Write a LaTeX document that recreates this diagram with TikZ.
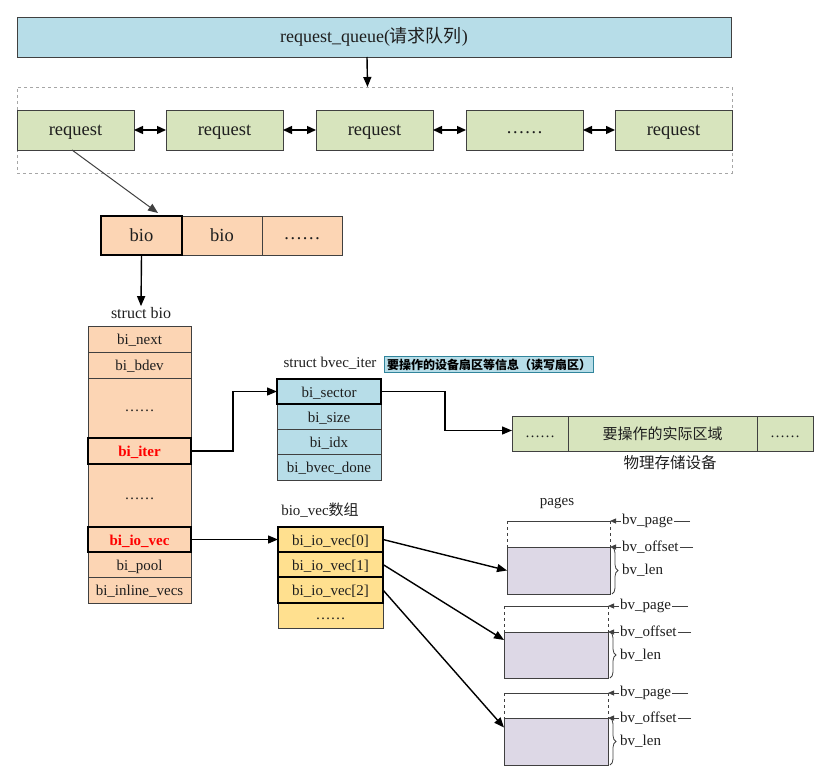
\documentclass[tikz,border=0pt]{standalone}
\usepackage{fontspec}
\setmainfont{Liberation Serif}
\newfontfamily\cjk{Noto Sans CJK SC}
\usetikzlibrary{arrows.meta,decorations.pathreplacing}
\definecolor{qblue}{HTML}{B7DDE8}
\definecolor{qgreen}{HTML}{D7E4BD}
\definecolor{qpeach}{HTML}{FCD5B4}
\definecolor{qyellow}{HTML}{FFE08F}
\definecolor{qlav}{HTML}{DDD8E6}
\definecolor{qline}{HTML}{404040}
\definecolor{qteal}{HTML}{31859C}
\definecolor{qtext}{HTML}{1E1E1E}
\newcommand\mydots{\raisebox{2pt}{……}}
\begin{document}
\begin{tikzpicture}[x=1pt,y=-1pt,
  cell/.style={draw=qline, line width=0.9pt, inner sep=0pt, outer sep=0pt, anchor=north west,
    font=\fontsize{15}{18}\selectfont, text=qtext, text height=11pt, text depth=0pt},
  bigcell/.style={cell, font=\fontsize{18.5}{22}\selectfont, text height=12pt},
  hot/.style={line width=1.6pt, draw=black},
  redtxt/.style={text=red, font=\fontsize{15}{18}\selectfont\bfseries},
  lbl/.style={inner sep=1pt, text=qtext, font=\fontsize{15}{18}\selectfont},
  arr/.style={line width=1.4pt, -{Triangle[length=10pt,width=8pt]}},
  darr/.style={line width=1.4pt, {Triangle[length=9pt,width=8pt]}-{Triangle[length=9pt,width=8pt]}},
  thinarr/.style={draw=qline, line width=1pt, -{Triangle[length=10pt,width=8pt]}},
  tagarr/.style={draw=qline, line width=0.8pt, -{Triangle[length=6pt,width=5pt]}},
  pageline/.style={draw=qline, line width=0.9pt},
  pagedash/.style={draw=qline, line width=0.7pt, dashed},
  pagebox/.style={draw=qline, line width=0.9pt, fill=qlav, anchor=north west, inner sep=0pt, outer sep=0pt},
  bracestyle/.style={draw=qline, line width=0.8pt, decorate, decoration={brace, amplitude=6pt}}
]
\useasboundingbox (0,0) rectangle (816,767);

% request queue
\node[cell, fill=qblue, minimum width=714, minimum height=40, font=\fontsize{18}{22}\selectfont, text height=12pt] (rq) at (17,17)
  {request\_queue({\cjk 请求队列})};
\node[draw=gray!70, line width=0.8pt, dashed, anchor=north west, minimum width=715, minimum height=86,
  inner sep=0pt, outer sep=0pt] (grp) at (17,87) {};
\draw[arr] ([xshift=-7]rq.south) -- ([xshift=-7]grp.north);

% requests
\node[bigcell, fill=qgreen, minimum width=117, minimum height=40] (r1) at (17,110) {request};
\node[bigcell, fill=qgreen, minimum width=117, minimum height=40] (r2) at (166,110) {request};
\node[bigcell, fill=qgreen, minimum width=117, minimum height=40] (r3) at (316,110) {request};
\node[bigcell, fill=qgreen, minimum width=117, minimum height=40] (r4) at (466,110) {\mydots};
\node[bigcell, fill=qgreen, minimum width=117, minimum height=40] (r5) at (615,110) {request};
\draw[darr] (r1.east) -- (r2.west);
\draw[darr] (r2.east) -- (r3.west);
\draw[darr] (r3.east) -- (r4.west);
\draw[darr] (r4.east) -- (r5.west);

% bio row
\node[bigcell, fill=qpeach, minimum width=80, minimum height=39] (b2) at (182,216) {bio};
\node[bigcell, fill=qpeach, minimum width=80, minimum height=39] (b3) at (262,216) {\mydots};
\node[bigcell, hot, fill=qpeach, minimum width=81, minimum height=39] (b1) at (101,216) {bio};
\draw[thinarr] ([xshift=-3.5]r1.south) -- ([xshift=16.5,yshift=3]b1.north);

% struct bio
\node[lbl, font=\fontsize{16}{19}\selectfont] (sbl) at (141,313) {struct bio};
\draw[arr] (b1.south) -- (sbl.north);
\node[cell, fill=qpeach, minimum width=103, minimum height=26] (sb1) at (88,326) {bi\_next};
\node[cell, fill=qpeach, minimum width=103, minimum height=26] (sb2) at (88,352) {bi\_bdev};
\node[cell, fill=qpeach, minimum width=103, minimum height=60] (sb3) at (88,378) {\mydots};
\node[cell, fill=qpeach, minimum width=103, minimum height=63] (sb5) at (88,464) {\mydots};
\node[cell, fill=qpeach, minimum width=103, minimum height=25] (sb7) at (88,552) {bi\_pool};
\node[cell, fill=qpeach, minimum width=103, minimum height=26] (sb8) at (88,577) {bi\_inline\_vecs};
\node[cell, hot, redtxt, fill=qpeach, minimum width=103, minimum height=26] (sb4) at (88,438) {bi\_iter};
\node[cell, hot, redtxt, fill=qpeach, minimum width=103, minimum height=25] (sb6) at (88,527) {bi\_io\_vec};

% struct bvec_iter
\node[lbl] (bvl) at (330,363) {struct bvec\_iter};
\node[draw=qteal, fill=qblue, line width=1pt, anchor=north west, minimum width=209, minimum height=16,
  inner sep=0pt, font=\cjk\bfseries\fontsize{12}{13}\selectfont] (tag) at (384,356)
  {要操作的设备扇区等信息（读写扇区）};
\node[cell, fill=qblue, minimum width=104, minimum height=25] (bv2) at (277,404) {bi\_size};
\node[cell, fill=qblue, minimum width=104, minimum height=25] (bv3) at (277,429) {bi\_idx};
\node[cell, fill=qblue, minimum width=104, minimum height=26] (bv4) at (277,454) {bi\_bvec\_done};
\node[cell, hot, fill=qblue, minimum width=104, minimum height=25] (bv1) at (277,379) {bi\_sector};
\draw[arr] (sb4.east) -- ++(42,0) |- (bv1.west);

% physical device
\node[cell, fill=qgreen, minimum width=56, minimum height=35] (d1) at (512,416) {\mydots};
\node[cell, fill=qgreen, minimum width=189, minimum height=35, font=\cjk\fontsize{15}{18}\selectfont] (d2) at (568,416) {要操作的实际区域};
\node[cell, fill=qgreen, minimum width=56, minimum height=35] (d3) at (757,416) {\mydots};
\node[lbl, font=\cjk\fontsize{15.5}{18}\selectfont] (devl) at (670,463) {物理存储设备};
\draw[arr] (bv1.east) -- ++(64,0) |- ([yshift=3]d1.west);

% bio_vec array
\node[lbl] (vecl) at (320,510) {bio\_vec{\cjk 数组}};
\node[cell, fill=qyellow, minimum width=105, minimum height=25] (vec3) at (278,603) {\mydots};
\node[cell, hot, fill=qyellow, minimum width=105, minimum height=25] (vec0) at (278,527) {bi\_io\_vec[0]};
\node[cell, hot, fill=qyellow, minimum width=105, minimum height=25] (vec1) at (278,552) {bi\_io\_vec[1]};
\node[cell, hot, fill=qyellow, minimum width=105, minimum height=26] (vec2) at (278,577) {bi\_io\_vec[2]};
\draw[arr] (sb6.east) -- (vec0.west);

% pages
\node[lbl] (pgl) at (557,503) {pages};
\foreach \n/\xl/\xr/\yt/\yf/\yb in {p1/507/610/521/547/594, p2/504/608/606/632/678, p3/504/608/693/718/765}{
  \node[pagebox, minimum width={\xr-\xl}, minimum height={\yb-\yf}] (\n) at (\xl,\yf) {};
  \coordinate (\n tl) at (\xl,\yt);
  \coordinate (\n tr) at (\xr,\yt);
  \coordinate (\n pe) at ({\xr+80},\yt);
  \coordinate (\n oe) at ({\xr+83},\yf);
  \draw[pageline] (\n tl) -- (\n tr);
  \draw[pagedash] (\n tl) -- (\n.north west);
  \draw[pagedash] (\n tr) -- (\n.north east);
  \draw[tagarr] (\n pe) -- (\n tr);
  \draw[tagarr] (\n oe) -- (\n.north east);
  \node[lbl, fill=white, anchor=west] at ({\xr+11},\yt) {bv\_page};
  \node[lbl, fill=white, anchor=west] at ({\xr+11},\yf) {bv\_offset};
  \draw[bracestyle] ([xshift=2]\n.north east) -- ([xshift=2]\n.south east);
  \node[lbl, anchor=west] at ({\xr+11},{(\yf+\yb)/2}) {bv\_len};
}
\draw[arr] (vec0.east) -- (p1.west);
\draw[arr] (vec1.east) -- ([yshift=15]p2.west);
\draw[arr] (vec2.east) -- ([yshift=14]p3.west);
\end{tikzpicture}
\end{document}
